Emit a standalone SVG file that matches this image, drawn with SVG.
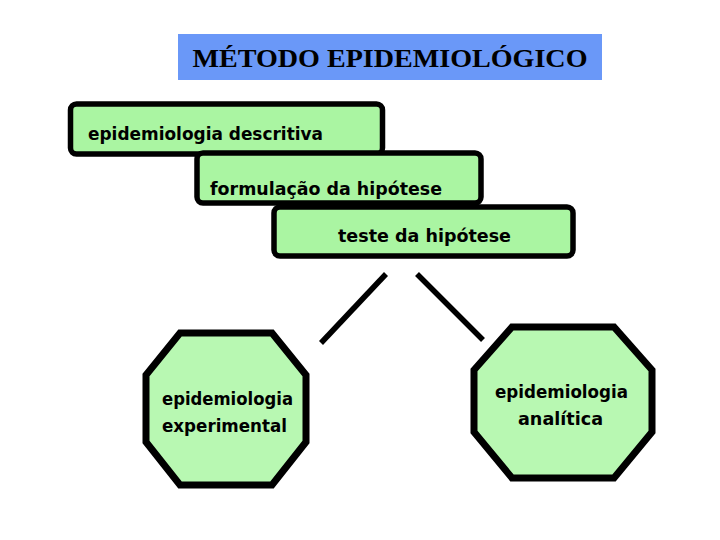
<svg xmlns="http://www.w3.org/2000/svg" width="720" height="540" viewBox="0 0 720 540">
<style>
.box{fill:#aaf5a2;stroke:#000;stroke-width:5.5}
.oct{fill:#b8f8b2;stroke:#000;stroke-width:7;stroke-linejoin:miter}
.lbl{font-family:"DejaVu Sans","Liberation Sans",Arial,sans-serif;font-weight:bold;font-size:17px;fill:#000}
.title{font-family:"Liberation Serif","Times New Roman",serif;font-weight:bold;font-size:26px;fill:#000}
.conn{stroke:#000;stroke-width:5.5;stroke-linecap:butt}
</style>
<rect x="0" y="0" width="720" height="540" fill="#fff"/>
<g id="title">
<rect x="178" y="34" width="424" height="46" fill="#6a98f8"/>
<text class="title" x="390" y="67" text-anchor="middle" textLength="395" lengthAdjust="spacingAndGlyphs">MÉTODO EPIDEMIOLÓGICO</text>
</g>
<g id="descritiva">
<rect class="box" x="70.5" y="104" width="312" height="50" rx="6"/>
<text class="lbl" x="88" y="140" textLength="235" lengthAdjust="spacingAndGlyphs">epidemiologia descritiva</text>
</g>
<g id="formulacao">
<rect class="box" x="197" y="153" width="284" height="50" rx="6"/>
<text class="lbl" x="210" y="195" textLength="232" lengthAdjust="spacingAndGlyphs">formulação da hipótese</text>
</g>
<g id="teste">
<rect class="box" x="274" y="207" width="299" height="49" rx="6"/>
<text class="lbl" x="338" y="242" textLength="173" lengthAdjust="spacingAndGlyphs">teste da hipótese</text>
</g>
<g id="connectors">
<line class="conn" x1="386" y1="274" x2="321" y2="343"/>
<line class="conn" x1="417" y1="274" x2="483" y2="340"/>
</g>
<g id="experimental">
<polygon class="oct" points="180,333 272,333 306,375 306,442 272,485 180,485 146,442 146,375"/>
<text class="lbl" x="162" y="405" textLength="131" lengthAdjust="spacingAndGlyphs">epidemiologia</text>
<text class="lbl" x="162" y="432" textLength="125" lengthAdjust="spacingAndGlyphs">experimental</text>
</g>
<g id="analitica">
<polygon class="oct" points="512,327 614,327 652,370 652,432 614,478 512,478 474,432 474,370"/>
<text class="lbl" x="561.5" y="398" text-anchor="middle" textLength="133" lengthAdjust="spacingAndGlyphs">epidemiologia</text>
<text class="lbl" x="560.5" y="425" text-anchor="middle" textLength="85" lengthAdjust="spacingAndGlyphs">analítica</text>
</g>
</svg>
